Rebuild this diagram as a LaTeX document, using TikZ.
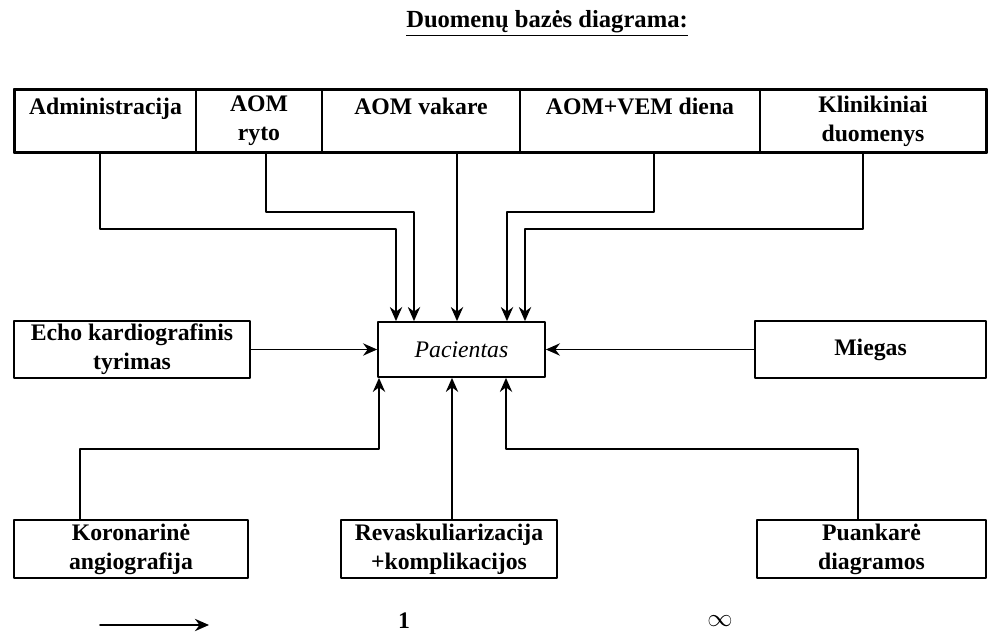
\documentclass[tikz,border=0pt]{standalone}
\usepackage{fontspec}
\setmainfont{Liberation Serif}
\usetikzlibrary{arrows.meta}
\begin{document}
\begin{tikzpicture}[>={Stealth[length=8pt,width=7pt]},line join=round,line cap=round,x=0.02cm,y=-0.02cm,
		font=\fontsize{13.5}{16.5}\selectfont\bfseries,
		box/.style={draw,line width=1pt,align=center,inner sep=1pt},
		cell/.style={box,minimum height=1.24cm},
		conn/.style={->,line width=1pt}]
	\useasboundingbox (0,0) rectangle (991,634);
	\node (title) at (547,23) {\fontsize{14}{16}\selectfont\underline{Duomenų bazės diagrama:}};
	% virsutine juosta
	\node[cell,minimum width=3.62cm] (adm) at (105.5,121) {Administracija\\~};
	\node[cell,minimum width=2.52cm] (aomr) at (259,121) {AOM\\ryto};
	\node[cell,minimum width=3.96cm] (aomv) at (421,121) {AOM vakare\\~};
	\node[cell,minimum width=4.80cm] (aomd) at (640,121) {AOM+VEM diena\\~};
	\node[cell,minimum width=4.52cm] (klin) at (873,121) {Klinikiniai\\duomenys};
	\draw[line width=1.5pt] (adm.north west) rectangle (klin.south east);
	% vidurys
	\node[box,minimum width=3.34cm,minimum height=1.1cm,font=\fontsize{13.5}{16.5}\selectfont\itshape] (pac) at (461.5,349.5) {Pacientas};
	\node[box,minimum width=4.72cm,minimum height=1.14cm] (echo) at (132,349.5) {Echo kardiografinis\\tyrimas};
	\node[box,minimum width=4.62cm,minimum height=1.14cm] (mieg) at (870.5,349.5) {Miegas};
	% apacia
	\node[box,minimum width=4.68cm,minimum height=1.16cm] (kor) at (131,549) {Koronarinė\\angiografija};
	\node[box,minimum width=4.32cm,minimum height=1.16cm] (rev) at (449,549) {Revaskuliarizacija\\+komplikacijos};
	\node[box,minimum width=4.58cm,minimum height=1.16cm] (pua) at (871.5,549) {Puankarė\\diagramos};
	\foreach \c/\sx/\tx/\y in {adm/100/396/229,aomr/266/414/212,aomv/457/457/212,aomd/654/507/212,klin/863/525/229}
	{\draw[conn] (\c.south -| \sx,0) |- (\tx,\y) -- (pac.north -| \tx,0);}
	\draw[conn] (echo.east) -- (pac.west);
	\draw[conn] (mieg.west) -- (pac.east);
	\foreach \c/\sx/\tx in {kor/80/379,rev/452/452,pua/858/506}
	{\draw[conn] (\c.north -| \sx,0) |- (\tx,449) -- (pac.south -| \tx,0);}
	% legenda
	\coordinate (l1) at (100,625);
	\coordinate (l2) at (209,625);
	\draw[conn] (l1) -- (l2);
	\node (one) at (404,621) {1};
	\node (inf) at (720,621) {$\infty$};
\end{tikzpicture}
\end{document}
